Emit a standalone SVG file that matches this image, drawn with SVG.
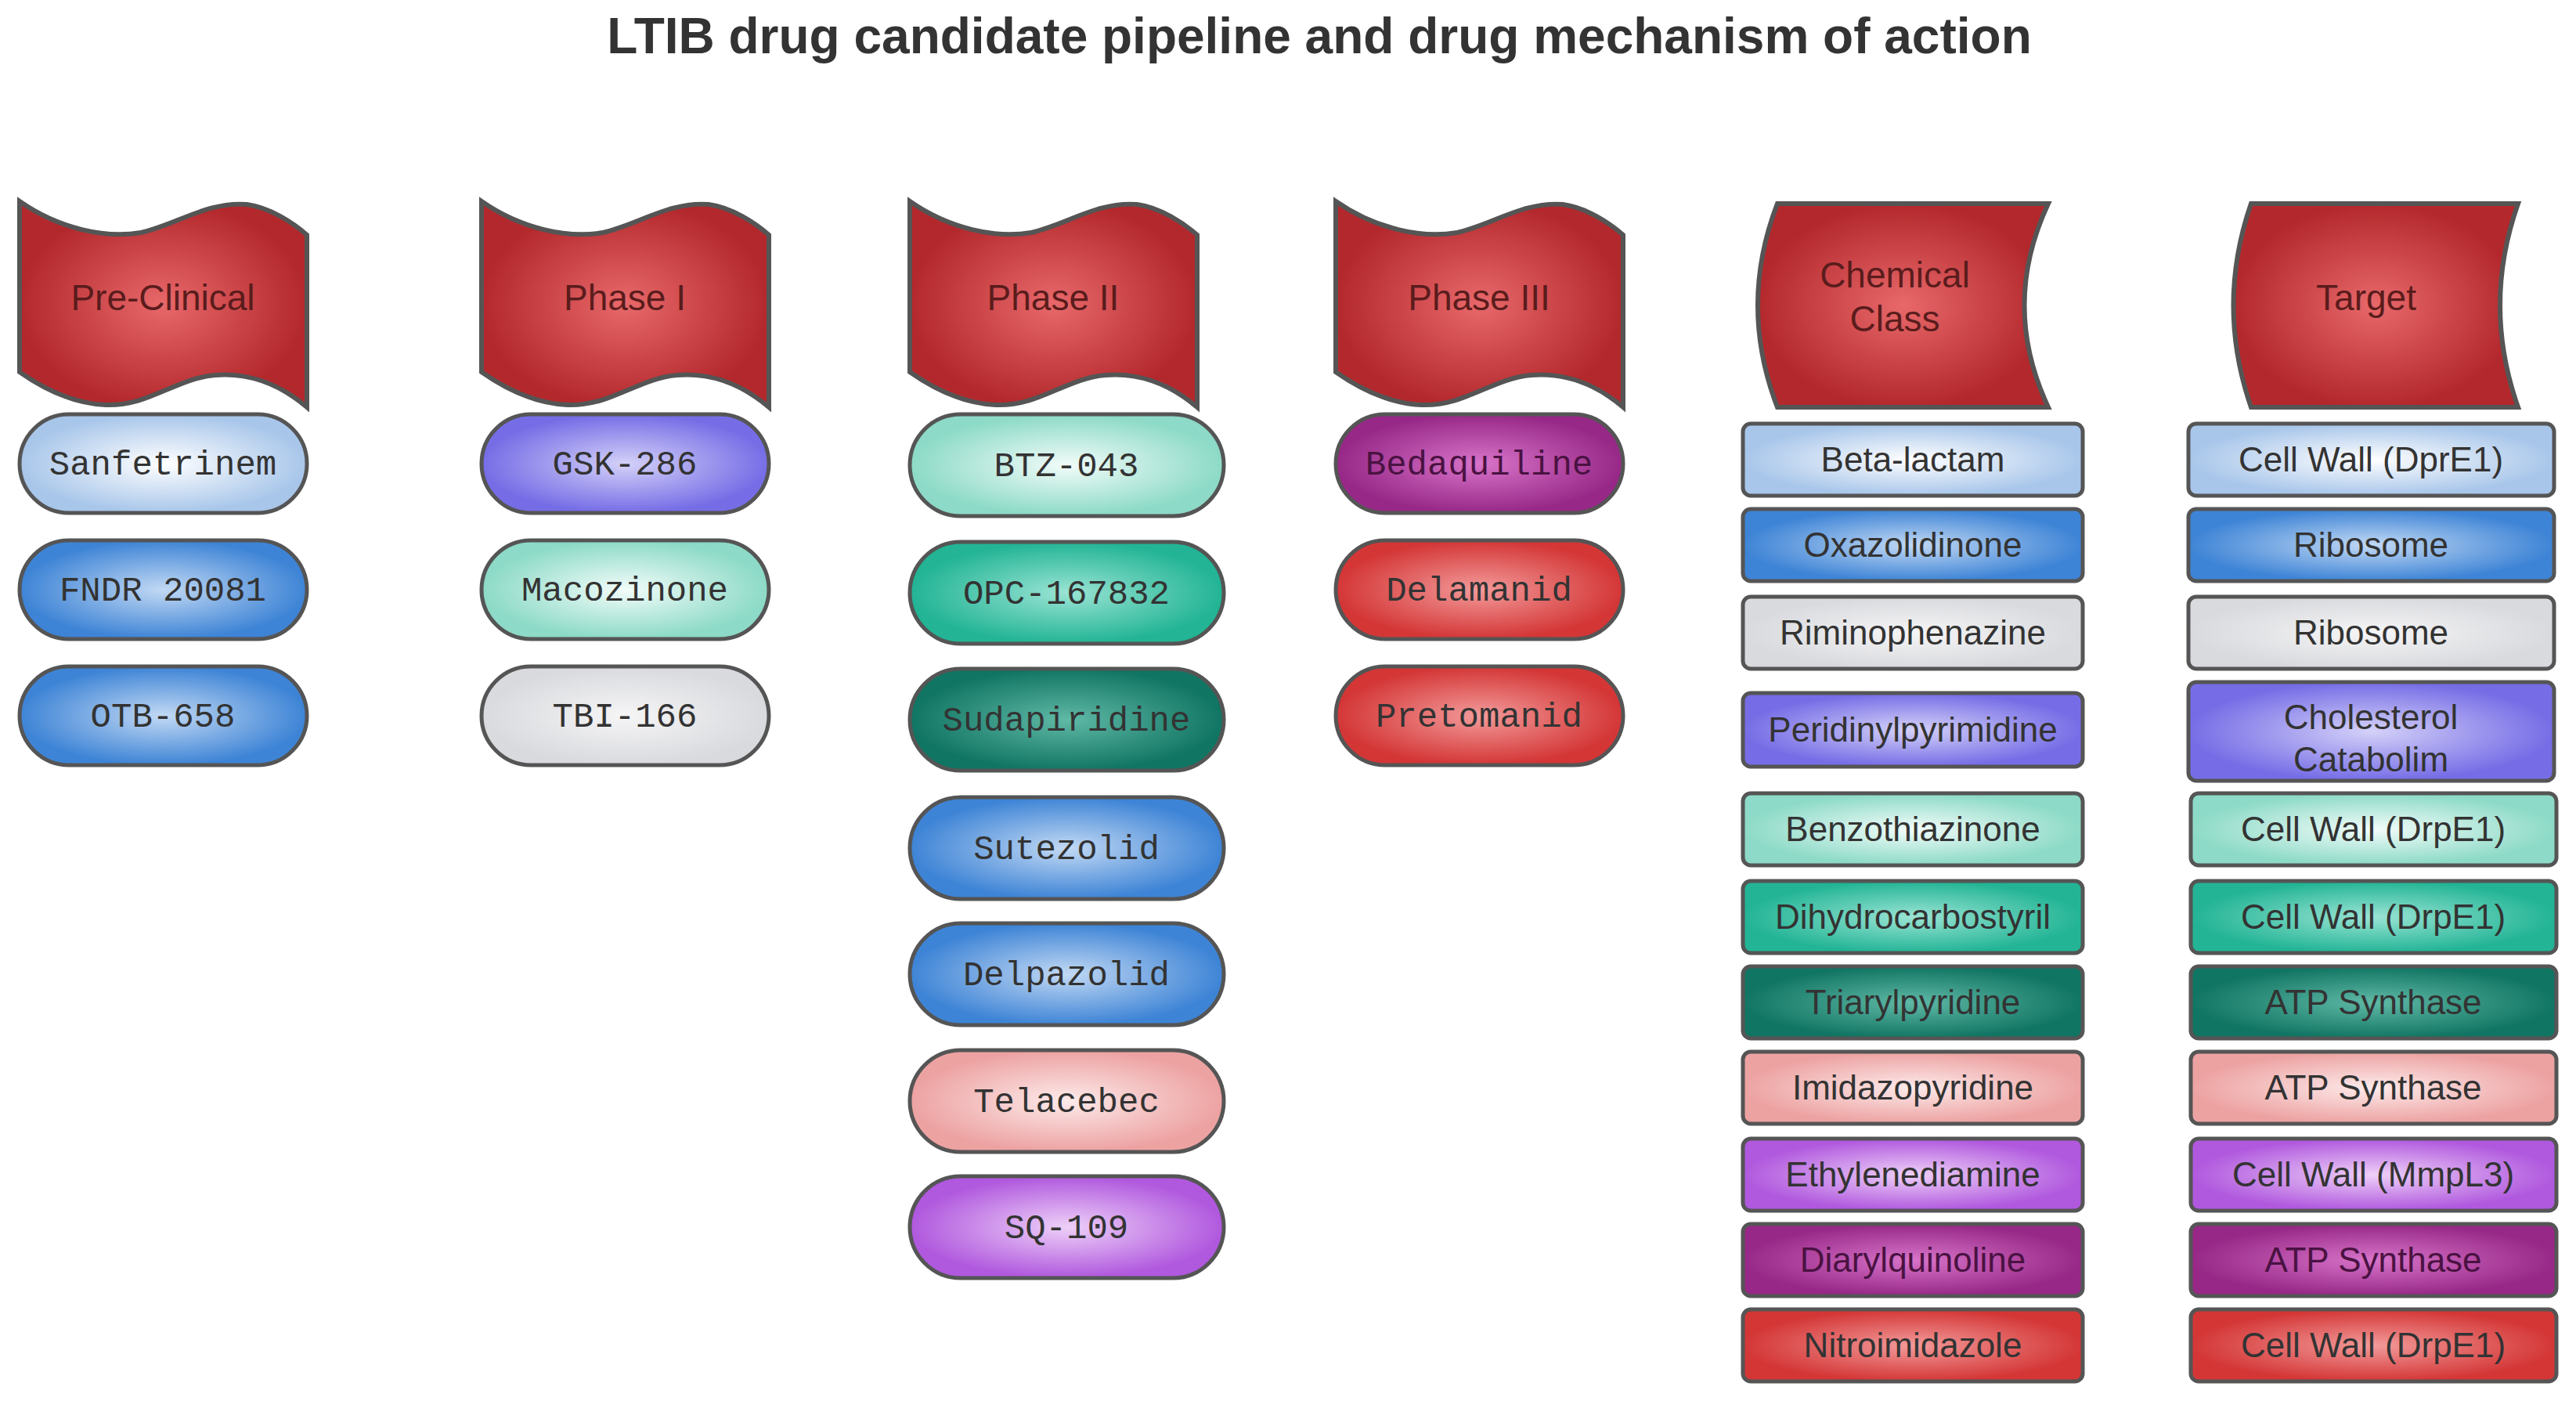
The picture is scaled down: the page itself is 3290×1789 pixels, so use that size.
<svg xmlns="http://www.w3.org/2000/svg" width="3290" height="1789" viewBox="0 0 3290 1789">
<style>
.t{font-family:"Liberation Sans",Arial,sans-serif;font-weight:bold;font-size:64px;fill:#333;text-anchor:middle}
.b{stroke:#555;stroke-width:6}
.bt{font-family:"Liberation Sans",Arial,sans-serif;font-size:46px;fill:#5a1c1c;text-anchor:middle}
.p{stroke:#555;stroke-width:5}
.pt{font-family:"Liberation Mono","Courier New",monospace;font-size:44px;fill:#333;text-anchor:middle}
.rt{font-family:"Liberation Sans",Arial,sans-serif;font-size:44px;fill:#333;text-anchor:middle}
</style>
<defs>
<radialGradient id="red"><stop offset="0" stop-color="#e8686a"/><stop offset="1" stop-color="#b3282c"/></radialGradient>
<radialGradient id="lb"><stop offset="0" stop-color="#ffffff"/><stop offset="1" stop-color="#a8c6ea"/></radialGradient>
<radialGradient id="bl"><stop offset="0" stop-color="#c2d9f4"/><stop offset="1" stop-color="#3e84d6"/></radialGradient>
<radialGradient id="gy"><stop offset="0" stop-color="#f5f5f6"/><stop offset="1" stop-color="#d9dade"/></radialGradient>
<radialGradient id="pu"><stop offset="0" stop-color="#d4d1f8"/><stop offset="1" stop-color="#766de6"/></radialGradient>
<radialGradient id="lt"><stop offset="0" stop-color="#f2fcf9"/><stop offset="1" stop-color="#8cdac7"/></radialGradient>
<radialGradient id="te"><stop offset="0" stop-color="#9ae4d4"/><stop offset="1" stop-color="#22b495"/></radialGradient>
<radialGradient id="dt"><stop offset="0" stop-color="#5fb9a6"/><stop offset="1" stop-color="#117563"/></radialGradient>
<radialGradient id="pk"><stop offset="0" stop-color="#fdeaea"/><stop offset="1" stop-color="#eda2a2"/></radialGradient>
<radialGradient id="vi"><stop offset="0" stop-color="#eed0f8"/><stop offset="1" stop-color="#b058de"/></radialGradient>
<radialGradient id="mg"><stop offset="0" stop-color="#d874c9"/><stop offset="1" stop-color="#972887"/></radialGradient>
<radialGradient id="rd"><stop offset="0" stop-color="#f39a9a"/><stop offset="1" stop-color="#d43636"/></radialGradient>
<path id="wave" d="M0,0 C50,35 110,48 155,40 C200,30 240,0 290,4 C320,8 350,28 367,43 L367,263 C340,240 300,218 250,222 C200,226 165,262 110,260 C60,258 20,232 0,218 Z"/>
</defs>
<text class="t" x="1685" y="68">LTIB drug candidate pipeline and drug mechanism of action</text>

<g id="h-preclinical"><use href="#wave" x="25" y="257" fill="url(#red)" class="b"/><text class="bt" x="208" y="396">Pre-Clinical</text></g>
<g id="h-phase1"><use href="#wave" x="615" y="257" fill="url(#red)" class="b"/><text class="bt" x="798" y="396">Phase I</text></g>
<g id="h-phase2"><use href="#wave" x="1162" y="257" fill="url(#red)" class="b"/><text class="bt" x="1345" y="396">Phase II</text></g>
<g id="h-phase3"><use href="#wave" x="1706" y="257" fill="url(#red)" class="b"/><text class="bt" x="1889" y="396">Phase III</text></g>
<g id="h-chem"><path class="b" fill="url(#red)" d="M2270,260 L2616,260 Q2555,390 2616,520 L2270,520 Q2220,390 2270,260 Z"/><text class="bt" x="2420" y="367">Chemical</text><text class="bt" x="2420" y="423">Class</text></g>
<g id="h-target"><path class="b" fill="url(#red)" d="M2875,260 L3216,260 Q3170,390 3216,520 L2875,520 Q2830,390 2875,260 Z"/><text class="bt" x="3022" y="396">Target</text></g>

<g id="p-sanfetrinem"><rect class="p" x="25" y="529" width="367" height="126" rx="63" fill="url(#lb)"/><text class="pt" x="208" y="606">Sanfetrinem</text></g>
<g id="p-fndr"><rect class="p" x="25" y="690" width="367" height="126" rx="63" fill="url(#bl)"/><text class="pt" x="208" y="767">FNDR 20081</text></g>
<g id="p-otb"><rect class="p" x="25" y="851" width="367" height="126" rx="63" fill="url(#bl)"/><text class="pt" x="208" y="928">OTB-658</text></g>

<g id="p-gsk"><rect class="p" x="615" y="529" width="367" height="126" rx="63" fill="url(#pu)"/><text class="pt" x="798" y="606">GSK-286</text></g>
<g id="p-macozinone"><rect class="p" x="615" y="690" width="367" height="126" rx="63" fill="url(#lt)"/><text class="pt" x="798" y="767">Macozinone</text></g>
<g id="p-tbi"><rect class="p" x="615" y="851" width="367" height="126" rx="63" fill="url(#gy)"/><text class="pt" x="798" y="928">TBI-166</text></g>

<g id="p-btz"><rect class="p" x="1162" y="529" width="401" height="130" rx="65" fill="url(#lt)"/><text class="pt" x="1362" y="608">BTZ-043</text></g>
<g id="p-opc"><rect class="p" x="1162" y="692" width="401" height="130" rx="65" fill="url(#te)"/><text class="pt" x="1362" y="771">OPC-167832</text></g>
<g id="p-sudapiridine"><rect class="p" x="1162" y="854" width="401" height="130" rx="65" fill="url(#dt)"/><text class="pt" x="1362" y="933">Sudapiridine</text></g>
<g id="p-sutezolid"><rect class="p" x="1162" y="1018" width="401" height="130" rx="65" fill="url(#bl)"/><text class="pt" x="1362" y="1097">Sutezolid</text></g>
<g id="p-delpazolid"><rect class="p" x="1162" y="1179" width="401" height="130" rx="65" fill="url(#bl)"/><text class="pt" x="1362" y="1258">Delpazolid</text></g>
<g id="p-telacebec"><rect class="p" x="1162" y="1341" width="401" height="130" rx="65" fill="url(#pk)"/><text class="pt" x="1362" y="1420">Telacebec</text></g>
<g id="p-sq109"><rect class="p" x="1162" y="1502" width="401" height="130" rx="65" fill="url(#vi)"/><text class="pt" x="1362" y="1581">SQ-109</text></g>

<g id="p-bedaquiline"><rect class="p" x="1706" y="529" width="367" height="126" rx="63" fill="url(#mg)"/><text class="pt" x="1889" y="606" style="fill:#4a1242">Bedaquiline</text></g>
<g id="p-delamanid"><rect class="p" x="1706" y="690" width="367" height="126" rx="63" fill="url(#rd)"/><text class="pt" x="1889" y="767">Delamanid</text></g>
<g id="p-pretomanid"><rect class="p" x="1706" y="851" width="367" height="126" rx="63" fill="url(#rd)"/><text class="pt" x="1889" y="928">Pretomanid</text></g>

<g id="c1"><rect class="p" x="2226" y="541" width="434" height="92" rx="10" fill="url(#lb)"/><text class="rt" x="2443" y="602">Beta-lactam</text></g>
<g id="c2"><rect class="p" x="2226" y="650" width="434" height="92" rx="10" fill="url(#bl)"/><text class="rt" x="2443" y="711">Oxazolidinone</text></g>
<g id="c3"><rect class="p" x="2226" y="762" width="434" height="92" rx="10" fill="url(#gy)"/><text class="rt" x="2443" y="823">Riminophenazine</text></g>
<g id="c4"><rect class="p" x="2226" y="885" width="434" height="94" rx="10" fill="url(#pu)"/><text class="rt" x="2443" y="947">Peridinylpyrimidine</text></g>
<g id="c5"><rect class="p" x="2226" y="1013" width="434" height="92" rx="10" fill="url(#lt)"/><text class="rt" x="2443" y="1074">Benzothiazinone</text></g>
<g id="c6"><rect class="p" x="2226" y="1125" width="434" height="92" rx="10" fill="url(#te)"/><text class="rt" x="2443" y="1186">Dihydrocarbostyril</text></g>
<g id="c7"><rect class="p" x="2226" y="1234" width="434" height="92" rx="10" fill="url(#dt)"/><text class="rt" x="2443" y="1295">Triarylpyridine</text></g>
<g id="c8"><rect class="p" x="2226" y="1343" width="434" height="92" rx="10" fill="url(#pk)"/><text class="rt" x="2443" y="1404">Imidazopyridine</text></g>
<g id="c9"><rect class="p" x="2226" y="1454" width="434" height="92" rx="10" fill="url(#vi)"/><text class="rt" x="2443" y="1515">Ethylenediamine</text></g>
<g id="c10"><rect class="p" x="2226" y="1563" width="434" height="92" rx="10" fill="url(#mg)"/><text class="rt" x="2443" y="1624" style="fill:#4a1242">Diarylquinoline</text></g>
<g id="c11"><rect class="p" x="2226" y="1672" width="434" height="92" rx="10" fill="url(#rd)"/><text class="rt" x="2443" y="1733">Nitroimidazole</text></g>

<g id="t1"><rect class="p" x="2795" y="541" width="467" height="92" rx="10" fill="url(#lb)"/><text class="rt" x="3028" y="602">Cell Wall (DprE1)</text></g>
<g id="t2"><rect class="p" x="2795" y="650" width="467" height="92" rx="10" fill="url(#bl)"/><text class="rt" x="3028" y="711">Ribosome</text></g>
<g id="t3"><rect class="p" x="2795" y="762" width="467" height="92" rx="10" fill="url(#gy)"/><text class="rt" x="3028" y="823">Ribosome</text></g>
<g id="t4"><rect class="p" x="2795" y="871" width="467" height="126" rx="10" fill="url(#pu)"/><text class="rt" x="3028" y="931">Cholesterol</text><text class="rt" x="3028" y="985">Catabolim</text></g>
<g id="t5"><rect class="p" x="2798" y="1013" width="467" height="92" rx="10" fill="url(#lt)"/><text class="rt" x="3031" y="1074">Cell Wall (DrpE1)</text></g>
<g id="t6"><rect class="p" x="2798" y="1125" width="467" height="92" rx="10" fill="url(#te)"/><text class="rt" x="3031" y="1186">Cell Wall (DrpE1)</text></g>
<g id="t7"><rect class="p" x="2798" y="1234" width="467" height="92" rx="10" fill="url(#dt)"/><text class="rt" x="3031" y="1295">ATP Synthase</text></g>
<g id="t8"><rect class="p" x="2798" y="1343" width="467" height="92" rx="10" fill="url(#pk)"/><text class="rt" x="3031" y="1404">ATP Synthase</text></g>
<g id="t9"><rect class="p" x="2798" y="1454" width="467" height="92" rx="10" fill="url(#vi)"/><text class="rt" x="3031" y="1515">Cell Wall (MmpL3)</text></g>
<g id="t10"><rect class="p" x="2798" y="1563" width="467" height="92" rx="10" fill="url(#mg)"/><text class="rt" x="3031" y="1624" style="fill:#4a1242">ATP Synthase</text></g>
<g id="t11"><rect class="p" x="2798" y="1672" width="467" height="92" rx="10" fill="url(#rd)"/><text class="rt" x="3031" y="1733">Cell Wall (DrpE1)</text></g>
<g id="connectors"/>
</svg>
